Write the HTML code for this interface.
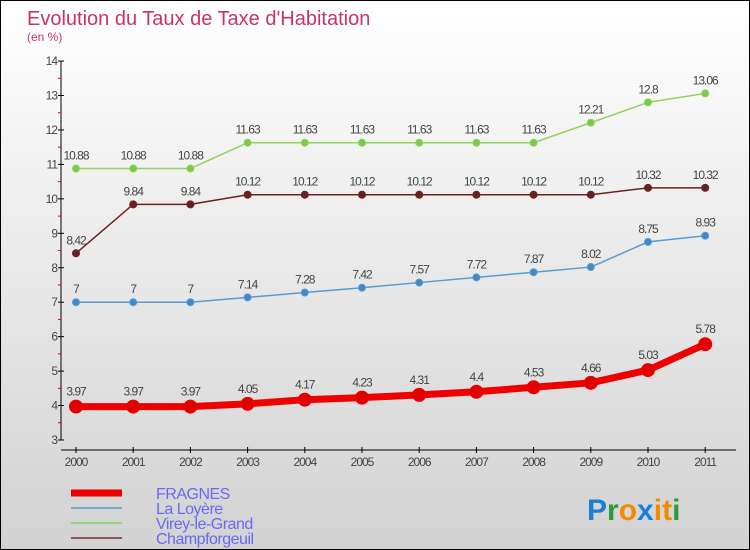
<!DOCTYPE html>
<html><head><meta charset="utf-8"><style>
body{margin:0}
#c{position:relative;width:748px;height:548px;border:1px solid #000;background:linear-gradient(#fff,#d2d2d2);font-family:"Liberation Sans",sans-serif;overflow:hidden}
</style></head><body>
<div id="c">
<svg id="s" width="748" height="548">
<text x="26" y="24" font-size="20" fill="#c8336a">Evolution du Taux de Taxe d'Habitation</text>
<text x="26" y="40" font-size="12" fill="#c8336a">(en %)</text>
<g id="g"></g>
<text x="586" y="519" font-size="30" font-weight="bold"><tspan fill="#1a7fd8">P</tspan><tspan fill="#2a9a3a">r</tspan><tspan fill="#f28a00">o</tspan><tspan fill="#1a7fd8">x</tspan><tspan fill="#f28a00">i</tspan><tspan fill="#f28a00">t</tspan><tspan fill="#2a9a3a">i</tspan></text>
</svg></div>
<script>
const years=[2000,2001,2002,2003,2004,2005,2006,2007,2008,2009,2010,2011];
const fragnes=[3.97,3.97,3.97,4.05,4.17,4.23,4.31,4.4,4.53,4.66,5.03,5.78];
const loyere=[7,7,7,7.14,7.28,7.42,7.57,7.72,7.87,8.02,8.75,8.93];
const virey=[10.88,10.88,10.88,11.63,11.63,11.63,11.63,11.63,11.63,12.21,12.8,13.06];
const champ=[8.42,9.84,9.84,10.12,10.12,10.12,10.12,10.12,10.12,10.12,10.32,10.32];
const yTicks=[3,4,5,6,7,8,9,10,11,12,13,14];
const seriesNames=["FRAGNES","La Loyère","Virey-le-Grand","Champforgeuil"];
const NS="http://www.w3.org/2000/svg",g=document.getElementById('g');
const X=i=>75+i*57.2, Y=v=>439-(v-3)*34.45;
function mk(t,a,p){const e=document.createElementNS(NS,t);for(const k in a)e.setAttribute(k,a[k]);(p||g).appendChild(e);return e;}
let e=mk('line',{x1:60,y1:Y(14),x2:60,y2:Y(3),stroke:'#000'});

e=mk('line',{x1:60,y1:449,x2:735,y2:449,stroke:'#000'});

yTicks.forEach(v=>{mk('line',{x1:57,x2:63,y1:Y(v),y2:Y(v),stroke:'#000'});
 if(v<14)mk('line',{x1:57,x2:60,y1:Y(v+0.5),y2:Y(v+0.5),stroke:'#e00'});
 const t=mk('text',{x:56,y:Y(v)+4,'font-size':12,'text-anchor':'end',fill:'#444','letter-spacing':'-1'});t.textContent=v;
 });
years.forEach((y,i)=>{mk('line',{x1:X(i),x2:X(i),y1:446,y2:452,stroke:'#000'});
 const t=mk('text',{x:X(i),y:465,'font-size':12,'text-anchor':'middle',fill:'#444','letter-spacing':'-1'});t.textContent=y;
 });
function series(d,col,dot,w,r,name){
 const p=mk('polyline',{points:d.map((v,i)=>X(i)+','+Y(v)).join(' '),fill:'none',stroke:col,'stroke-width':w,'stroke-linejoin':'round'});
 
 d.forEach((v,i)=>{const c=mk('circle',{cx:X(i),cy:Y(v),r:r,fill:dot,stroke:col,'stroke-width':1});
  
  const t=mk('text',{x:X(i),y:Y(v)-9-(r>4?2:0),'font-size':12,'text-anchor':'middle',fill:'#444','letter-spacing':'-1'});t.textContent=v;
  });
}
series(virey,'#8fd45a','#7cc84a',1.5,3.5,'virey');
series(champ,'#6b2020','#6b2020',1.5,3.5,'champforgeuil');
series(loyere,'#5a9bd0','#3f89c8',1.5,3.5,'loyere');
series(fragnes,'#ee0000','#e00000',7,6.5,'fragnes');
const lc=['#ee0000','#7aa9cc','#9ad47a','#8a5a5a'],lw=[7,2,2,2];
seriesNames.forEach((n,i)=>{const y=492+i*15;
 const l=mk('line',{x1:70,x2:121,y1:y,y2:y,stroke:lc[i],'stroke-width':lw[i]});
 
 const t=mk('text',{x:155,y:y+6,'font-size':16,fill:'#6a6af0','letter-spacing':'-0.5'});t.textContent=n;
 });
</script></body></html>
